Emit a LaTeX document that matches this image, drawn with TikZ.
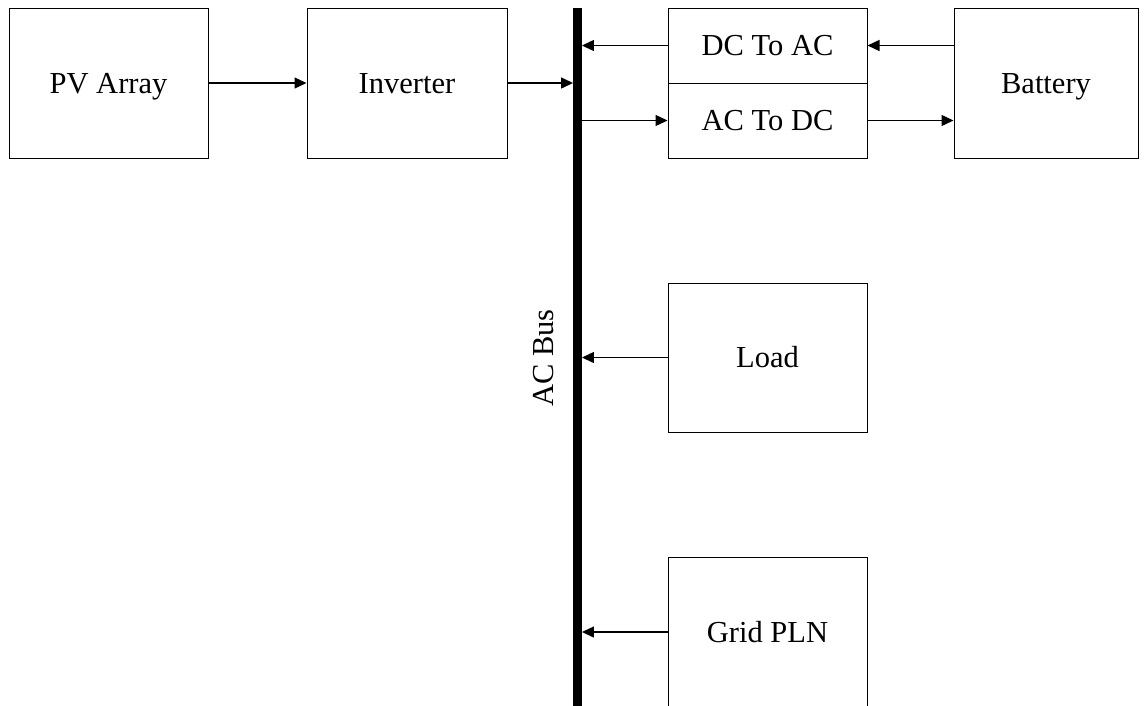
\documentclass[tikz,border=0pt]{standalone}
\usepackage{fontspec}
\setmainfont{Liberation Serif}
\usetikzlibrary{arrows.meta}
\begin{document}
\begin{tikzpicture}[x=1pt,y=-1pt,
  blk/.style={draw=black, line width=1pt, inner sep=0pt, align=center,
    text height=20pt, text depth=0pt,
    font=\fontsize{30.5}{36}\selectfont},
  arr/.style={line width=1.3pt, -{Triangle[length=12pt,width=11pt]}},
  lbl/.style={inner sep=0pt, text height=20pt, text depth=0pt,
    font=\fontsize{30.5}{36}\selectfont}]
\useasboundingbox (0,0) rectangle (1147,705);
\clip (0,0) rectangle (1147,705);
\node[blk, minimum width=199pt, minimum height=150pt] (pv) at (108.5,83) {PV Array};
\node[blk, minimum width=200pt, minimum height=150pt] (inv) at (407,83) {Inverter};
\node[fill=black, inner sep=0pt, minimum width=8.5pt, minimum height=720pt] (bus) at (577.5,368) {};
\node[blk, minimum width=199pt, minimum height=75pt] (dcac) at (767.5,45.5) {DC To AC};
\node[blk, minimum width=199pt, minimum height=75pt] (acdc) at (767.5,120.5) {AC To DC};
\node[blk, minimum width=184pt, minimum height=150pt] (bat) at (1046,83) {Battery};
\node[blk, minimum width=199pt, minimum height=149pt] (load) at (767.5,357.5) {Load};
\node[blk, minimum width=199pt, minimum height=150pt] (grid) at (767.5,632) {Grid PLN};
\node[lbl, rotate=90] (buslbl) at (543,358) {AC Bus};
\draw[arr] (pv.east) -- (inv.west);
\draw[arr] (inv.east) -- (inv.east -| bus.west);
\draw[arr] (dcac.west) -- (dcac.west -| bus.east);
\draw[arr] (acdc.west -| bus.east) -- (acdc.west);
\draw[arr] (bat.west |- dcac.east) -- (dcac.east);
\draw[arr] (acdc.east) -- (acdc.east -| bat.west);
\draw[arr] (load.west) -- (load.west -| bus.east);
\draw[arr] (grid.west) -- (grid.west -| bus.east);
\end{tikzpicture}
\end{document}
